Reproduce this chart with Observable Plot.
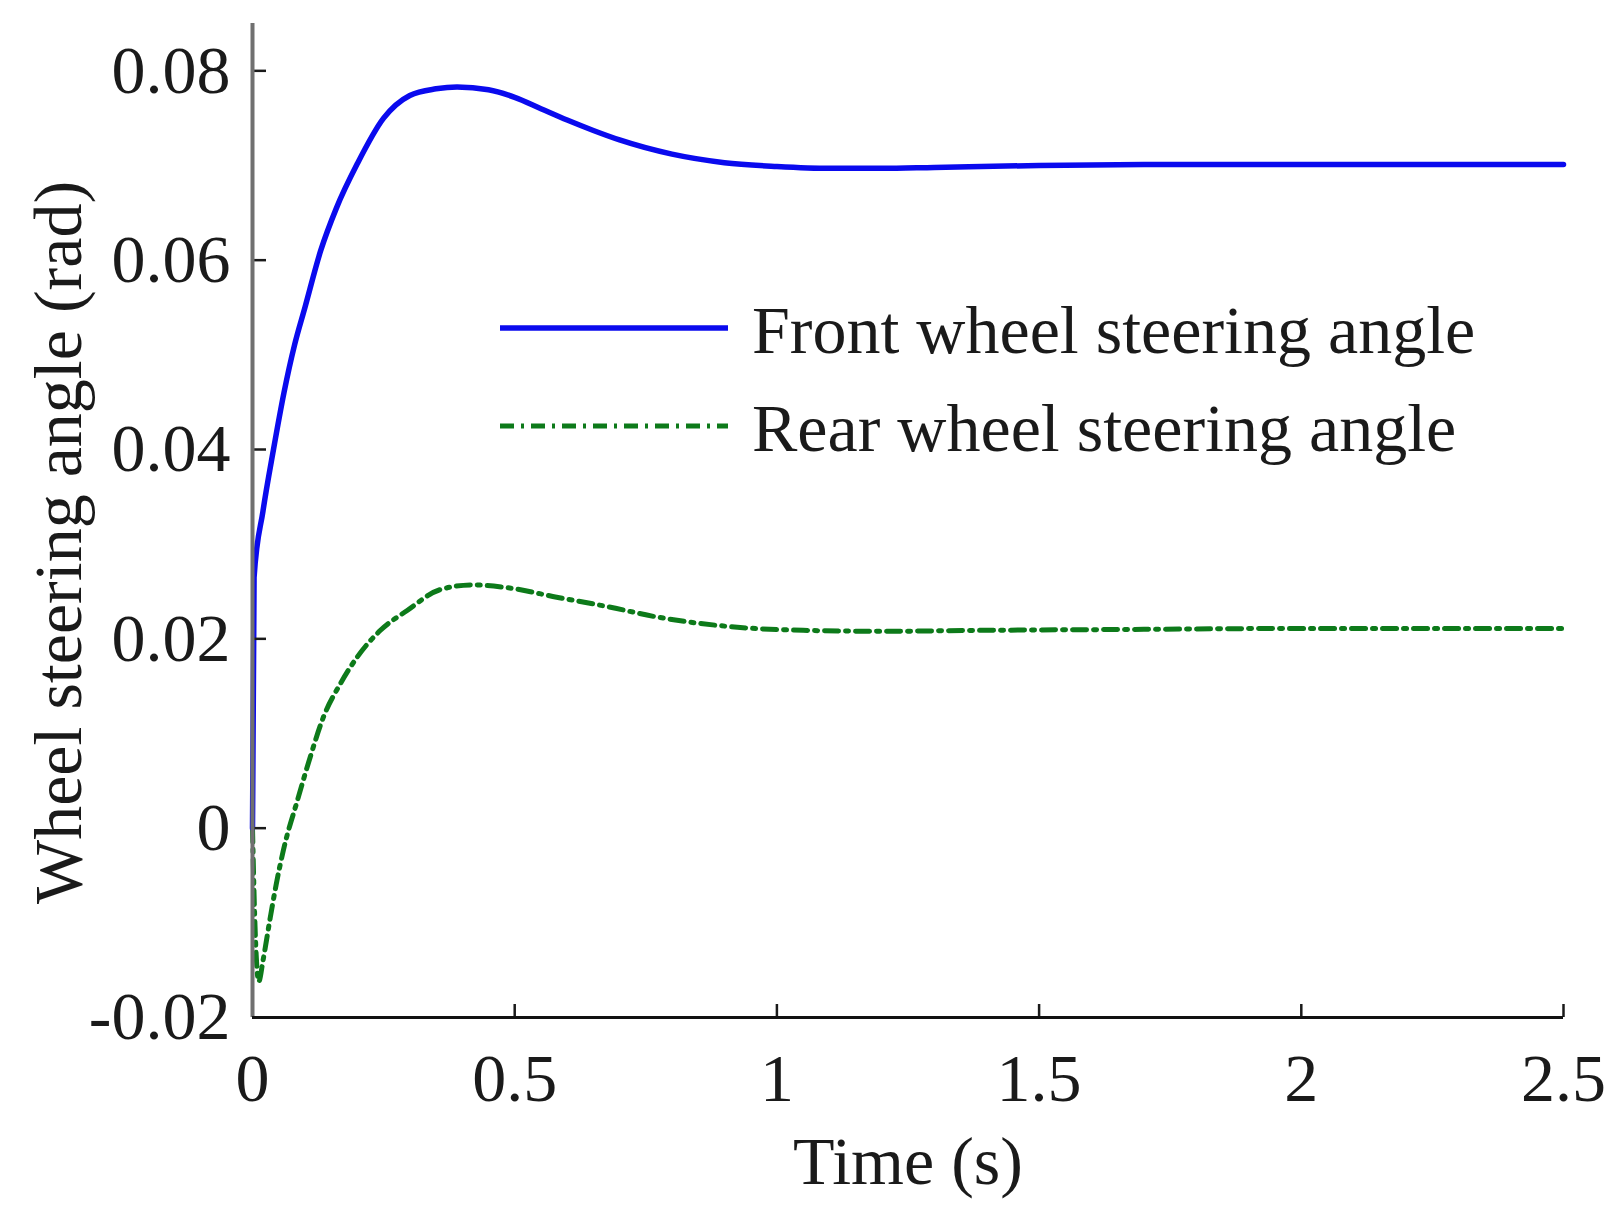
<!DOCTYPE html>
<html><head><meta charset="utf-8">
<script src="https://cdn.jsdelivr.net/npm/d3@7"></script>
<script src="https://cdn.jsdelivr.net/npm/@observablehq/plot@0.6"></script>
<style>body{margin:0;background:#fff;} #chart{width:1622px;height:1220px;}</style>
</head><body><div id="chart"></div>
<script>
// Data
const frontTime  = [0, 0.003, 0.02, 0.04, 0.06, 0.08, 0.1, 0.13, 0.16, 0.2, 0.25, 0.3, 0.35, 0.39, 0.45, 0.5, 0.55, 0.6, 0.65, 0.7, 0.8, 0.9, 1.0, 1.1, 1.2, 1.3, 1.5, 1.7, 2.0, 2.5];
const frontAngle = [0, 0.0265, 0.0335, 0.040, 0.046, 0.051, 0.055, 0.061, 0.0655, 0.0702, 0.0750, 0.0774, 0.0781, 0.0783, 0.0780, 0.0772, 0.0760, 0.0748, 0.0737, 0.0727, 0.0712, 0.0703, 0.0699, 0.0697, 0.0697, 0.0698, 0.0700, 0.0701, 0.0701, 0.0701];
const rearTime   = [0, 0.004, 0.012, 0.02, 0.034, 0.045, 0.059, 0.086, 0.11, 0.135, 0.168, 0.2, 0.244, 0.295, 0.358, 0.42, 0.486, 0.58, 0.677, 0.772, 0.93, 1.05, 1.2, 1.4, 1.7, 2.0, 2.5];
const rearAngle  = [0, -0.009, -0.0162, -0.0140, -0.0094, -0.0060, -0.0023, 0.0030, 0.0075, 0.0117, 0.0153, 0.0181, 0.0209, 0.0230, 0.0252, 0.0257, 0.0254, 0.0244, 0.0234, 0.0223, 0.0212, 0.0209, 0.0208, 0.0209, 0.0210, 0.0211, 0.0211];
const seriesNames = ["Front wheel steering angle", "Rear wheel steering angle"];
const xTicks = [0, 0.5, 1, 1.5, 2, 2.5];
const xTickLabels = ["0", "0.5", "1", "1.5", "2", "2.5"];
const yTicks = [-0.02, 0, 0.02, 0.04, 0.06, 0.08];
const yTickLabels = ["-0.02", "0", "0.02", "0.04", "0.06", "0.08"];
const xLabel = "Time (s)";
const yLabel = "Wheel steering angle (rad)";

const front = frontTime.map((t, i) => ({t, v: frontAngle[i]}));
const rear = rearTime.map((t, i) => ({t, v: rearAngle[i]}));

const W = 1622, H = 1220, mL = 252, mR = 59, mT = 23, mB = 203;
const frameW = W - mL - mR, frameH = H - mT - mB;
const xDomain = [0, 2.5], yDomain = [-0.02, 0.085];
const font = "'Liberation Serif','Times New Roman',serif";
const blue = "#0a0aee";
const green = "#0d7a1a";
const dash = "14,7,3,7";
const tickLen = 13;

const plot = Plot.plot({
  width: W, height: H,
  marginLeft: mL, marginRight: mR, marginTop: mT, marginBottom: mB,
  style: {fontFamily: font, fontSize: "68px", color: "#1a1a1a", background: "#fff", overflow: "visible"},
  x: {domain: xDomain, label: null},
  y: {domain: yDomain, label: null},
  marks: [
    Plot.line(rear, {x: "t", y: "v", stroke: green, strokeWidth: 5, strokeDasharray: dash, curve: "monotone-x"}),
    Plot.line(front, {x: "t", y: "v", stroke: blue, strokeWidth: 5.5, curve: "monotone-x"}),
    // inward tick marks
    Plot.ruleX(xTicks, {x: d => d, y1: yDomain[1], y2: yDomain[0], insetTop: frameH - tickLen, stroke: "#1a1a1a", strokeWidth: 2.5}),
    Plot.ruleY(yTicks, {y: d => d, x1: xDomain[0], x2: xDomain[1], insetRight: frameW - tickLen - 1, stroke: "#1a1a1a", strokeWidth: 2.5}),
    Plot.ruleX([0], {stroke: "#707070", strokeWidth: 4}),
    Plot.ruleY([-0.02], {stroke: "#111", strokeWidth: 3}),
    Plot.axisX(xTicks, {tickSize: 0, tickPadding: 35, fontSize: 68, label: null,
      tickFormat: d => xTickLabels[xTicks.indexOf(d)]}),
    Plot.axisY(yTicks, {tickSize: 0, tickPadding: 22, fontSize: 68, label: null,
      tickFormat: d => yTickLabels[yTicks.indexOf(d)]}),
    Plot.text([xLabel], {frameAnchor: "bottom", dy: 166, lineAnchor: "bottom", fontSize: 68, fill: "#1a1a1a"}),
    Plot.text([yLabel], {frameAnchor: "left", dx: -172, dy: 22, rotate: -90, lineAnchor: "bottom", textAnchor: "middle", fontSize: 68, fill: "#1a1a1a"})
  ]
});

// in-plot legend (no box), as in the reference
const svg = d3.select(plot);
const lg = svg.append("g").attr("font-family", font).attr("font-size", 68)
  .attr("fill", "#1a1a1a").attr("text-anchor", "start");
const items = [
  {name: seriesNames[0], stroke: blue, width: 5.5, dash: null, y: 328},
  {name: seriesNames[1], stroke: green, width: 5, dash: dash, y: 426}
];
items.forEach(it => {
  lg.append("line").attr("x1", 500).attr("x2", 728).attr("y1", it.y).attr("y2", it.y)
    .attr("stroke", it.stroke).attr("stroke-width", it.width).attr("stroke-dasharray", it.dash);
  lg.append("text").attr("x", 752).attr("y", it.y + 25).attr("text-anchor", "start").text(it.name);
});

document.getElementById("chart").appendChild(plot);
</script>
</body></html>
